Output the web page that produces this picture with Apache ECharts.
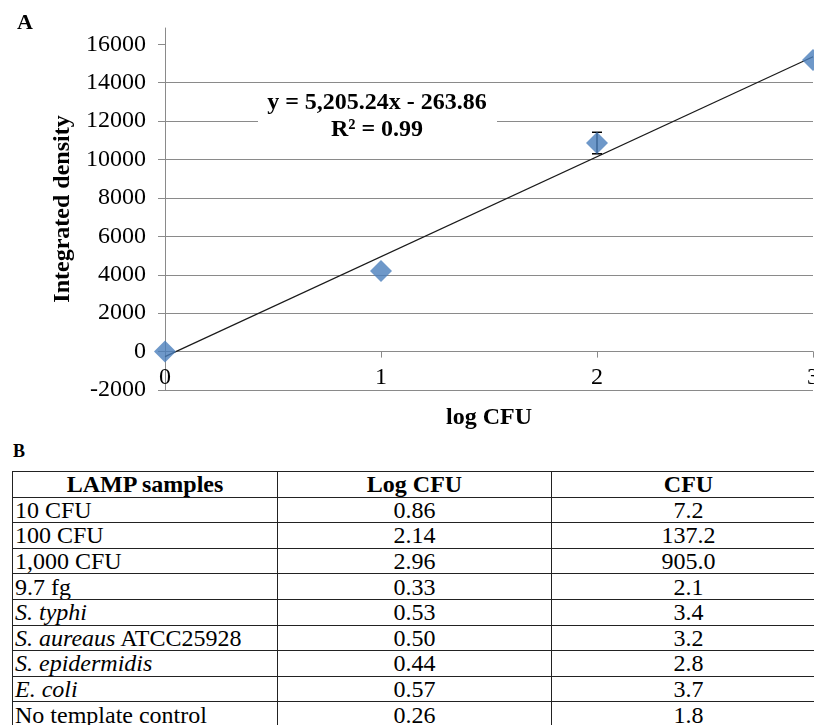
<!DOCTYPE html>
<html>
<head>
<meta charset="utf-8">
<script src="https://cdn.jsdelivr.net/npm/echarts@6/dist/echarts.min.js"></script>
<style>
  html, body { margin: 0; padding: 0; background: #fff; }
  body { width: 814px; height: 725px; overflow: hidden; position: relative;
         font-family: 'Liberation Serif', Tinos, 'Times New Roman', 'DejaVu Serif', serif; color: #000; }
  #chart { position: absolute; left: 0; top: 0; width: 814px; height: 440px; }
  #label-b { position: absolute; left: 13px; top: 441px; font-weight: bold; font-size: 18px; }
  #samples { position: absolute; left: 12px; top: 471px; width: 813px; border-collapse: collapse;
             table-layout: fixed; font-size: 24px; }
  #samples th, #samples td { border: 1px solid #222; height: 24.6px; line-height: 24px; padding: 0 2px;
                             white-space: nowrap; overflow: hidden; }
  #samples th { font-weight: bold; text-align: center; }
  #samples td.num { text-align: center; }
</style>
</head>
<body>
<div id="chart"></div>
<div id="label-b">B</div>
<table id="samples">
  <colgroup><col style="width:265px"><col style="width:274px"><col style="width:274px"></colgroup>
  <thead><tr id="head-row"></tr></thead>
  <tbody id="body-rows"></tbody>
</table>
<script>
// panel A: standard curve
const logCfu = [0, 1, 2, 3]
const density = [0, 4200, 10860, 15180]
const densityErr = [0, 0, 560, 0]
const slope = 5205.24
const intercept = -263.86
const yTicks = [-2000, 0, 2000, 4000, 6000, 8000, 10000, 12000, 14000, 16000]
const equationLines = ['y = 5,205.24x - 263.86', 'R² = 0.99']

// panel B: table
const tableHeaders = ['LAMP samples', 'Log CFU', 'CFU']
const sampleNames = ['10 CFU', '100 CFU', '1,000 CFU', '9.7 fg', 'S. typhi',
  'S. aureaus ATCC25928', 'S. epidermidis', 'E. coli', 'No template control']
const sampleItalic = ['', '', '', '', 'S. typhi', 'S. aureaus', 'S. epidermidis', 'E. coli', '']
const sampleLogCfu = ['0.86', '2.14', '2.96', '0.33', '0.53', '0.50', '0.44', '0.57', '0.26']
const sampleCfu = ['7.2', '137.2', '905.0', '2.1', '3.4', '3.2', '2.8', '3.7', '1.8']

const serif = "'Liberation Serif', Tinos, 'Times New Roman', 'DejaVu Serif', serif"
const gridGray = '#8a8a8a'

const headRow = document.getElementById('head-row')
tableHeaders.forEach(h => {
  const th = document.createElement('th')
  th.textContent = h
  headRow.appendChild(th)
})
const bodyRows = document.getElementById('body-rows')
sampleNames.forEach((name, i) => {
  const tr = document.createElement('tr')
  const c0 = document.createElement('td')
  const it = sampleItalic[i]
  if (it && name.startsWith(it)) {
    const em = document.createElement('i')
    em.textContent = it
    c0.appendChild(em)
    c0.appendChild(document.createTextNode(name.slice(it.length)))
  } else {
    c0.textContent = name
  }
  const c1 = document.createElement('td')
  c1.className = 'num'
  c1.textContent = sampleLogCfu[i]
  const c2 = document.createElement('td')
  c2.className = 'num'
  c2.textContent = sampleCfu[i]
  tr.appendChild(c0)
  tr.appendChild(c1)
  tr.appendChild(c2)
  bodyRows.appendChild(tr)
})

const chart = echarts.init(document.getElementById('chart'))
const xMax = logCfu[logCfu.length - 1]
const option = {
  animation: false,
  backgroundColor: '#fff',
  title: {
    text: 'A',
    left: 12,
    top: 7,
    textStyle: { fontFamily: serif, fontWeight: 'bold', fontSize: 22, color: '#000' }
  },
  grid: { left: 165, right: 1, top: 28, bottom: 50, outerBoundsMode: 'none' },
  xAxis: {
    type: 'value',
    min: 0,
    max: xMax,
    interval: 1,
    name: 'log CFU',
    nameLocation: 'middle',
    nameGap: 16,
    nameTextStyle: { fontFamily: serif, fontWeight: 'bold', fontSize: 24, color: '#000' },
    axisLine: { onZero: true, lineStyle: { color: gridGray } },
    axisTick: { show: true, length: 6, lineStyle: { color: gridGray } },
    axisLabel: { margin: -24, fontFamily: serif, fontSize: 24, color: '#000' },
    splitLine: { show: false }
  },
  yAxis: {
    type: 'value',
    min: -2000,
    max: 16850,
    interval: 2000,
    name: 'Integrated density',
    nameLocation: 'middle',
    nameGap: 90,
    nameTextStyle: { fontFamily: serif, fontWeight: 'bold', fontSize: 24, color: '#000' },
    axisLine: { show: true, onZero: false, lineStyle: { color: gridGray } },
    axisTick: { show: true, length: 7, customValues: yTicks, lineStyle: { color: gridGray } },
    axisLabel: {
      margin: 19,
      customValues: yTicks,
      formatter: v => String(v),
      fontFamily: serif,
      fontSize: 24,
      color: '#000'
    },
    splitLine: { show: true, showMaxLine: false, lineStyle: { color: gridGray, width: 1 } }
  },
  graphic: [
    { type: 'rect', shape: { x: 258, y: 90, width: 239, height: 52 }, style: { fill: '#fff' }, z: 99 },
    {
      type: 'text', x: 377, y: 103, z: 100,
      style: { text: equationLines[0], font: 'bold 24px ' + serif, fill: '#000', align: 'center', verticalAlign: 'middle' }
    },
    {
      type: 'text', x: 377, y: 130, z: 100,
      style: { text: equationLines[1], font: 'bold 24px ' + serif, fill: '#000', align: 'center', verticalAlign: 'middle' }
    }
  ],
  series: [
    {
      name: 'trend',
      type: 'line',
      data: [[0, intercept], [xMax, slope * xMax + intercept]],
      showSymbol: false,
      silent: true,
      lineStyle: { color: '#1a1a1a', width: 1.2 },
      z: 3
    },
    {
      name: 'error',
      type: 'custom',
      data: logCfu.map((x, i) => [x, density[i], densityErr[i]]).filter(d => d[2] > 0),
      renderItem: function(params, api) {
        const x = api.value(0)
        const y = api.value(1)
        const e = api.value(2)
        const top = api.coord([x, y + e])
        const bottom = api.coord([x, y - e])
        const cap = 5
        const style = { stroke: '#000', lineWidth: 1.5 }
        return {
          type: 'group',
          children: [
            { type: 'line', shape: { x1: top[0], y1: top[1], x2: bottom[0], y2: bottom[1] }, style },
            { type: 'line', shape: { x1: top[0] - cap, y1: top[1], x2: top[0] + cap, y2: top[1] }, style },
            { type: 'line', shape: { x1: bottom[0] - cap, y1: bottom[1], x2: bottom[0] + cap, y2: bottom[1] }, style }
          ]
        }
      },
      z: 4
    },
    {
      name: 'density',
      type: 'scatter',
      symbol: 'diamond',
      symbolSize: 22,
      data: logCfu.map((x, i) => [x, density[i]]),
      itemStyle: { color: '#4a7ebb' },
      z: 5
    }
  ]
}
chart.setOption(option)
</script>
</body>
</html>
